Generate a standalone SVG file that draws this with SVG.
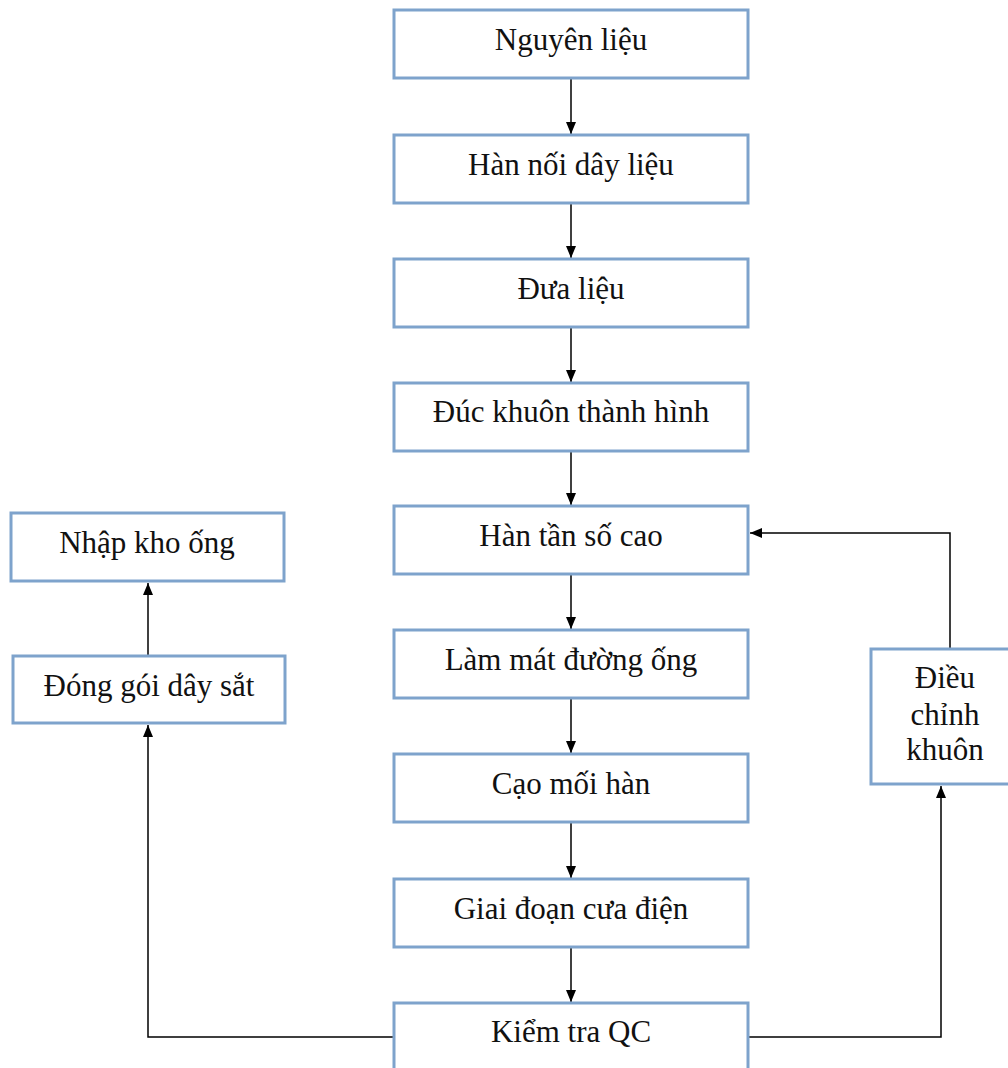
<svg xmlns="http://www.w3.org/2000/svg" width="1008" height="1068" viewBox="0 0 1008 1068">
<style>
.box{fill:#fff;stroke:#7ea3cc;stroke-width:3}
.t{font-family:'Liberation Serif','Times New Roman',serif;font-size:31px;fill:#111;text-anchor:middle}
.c{fill:none;stroke:#000;stroke-width:1.5}
</style>
<defs>
<marker id="a" viewBox="0 0 12 10" refX="12" refY="5" markerWidth="12" markerHeight="10" markerUnits="userSpaceOnUse" orient="auto"><path d="M0,0L12,5L0,10z" fill="#000"/></marker>
</defs>
<rect width="1008" height="1068" fill="#fff"/>
<g id="connectors">
<line class="c" x1="571" y1="79" x2="571" y2="134" marker-end="url(#a)"/>
<line class="c" x1="571" y1="203" x2="571" y2="258" marker-end="url(#a)"/>
<line class="c" x1="571" y1="327" x2="571" y2="382" marker-end="url(#a)"/>
<line class="c" x1="571" y1="451" x2="571" y2="505" marker-end="url(#a)"/>
<line class="c" x1="571" y1="574" x2="571" y2="629" marker-end="url(#a)"/>
<line class="c" x1="571" y1="698" x2="571" y2="753" marker-end="url(#a)"/>
<line class="c" x1="571" y1="822" x2="571" y2="878" marker-end="url(#a)"/>
<line class="c" x1="571" y1="947" x2="571" y2="1002" marker-end="url(#a)"/>
<polyline class="c" points="394,1037 148,1037 148,725" marker-end="url(#a)"/>
<line class="c" x1="148" y1="656" x2="148" y2="583" marker-end="url(#a)"/>
<polyline class="c" points="748,1037 941,1037 941,786" marker-end="url(#a)"/>
<polyline class="c" points="950,649 950,533 750,533" marker-end="url(#a)"/>
</g>
<g id="n1"><rect class="box" x="394" y="10" width="354" height="68"/><text class="t" x="571" y="50">Nguyên liệu</text></g>
<g id="n2"><rect class="box" x="394" y="135" width="354" height="68"/><text class="t" x="571" y="175">Hàn nối dây liệu</text></g>
<g id="n3"><rect class="box" x="394" y="259" width="354" height="68"/><text class="t" x="571" y="299">Đưa liệu</text></g>
<g id="n4"><rect class="box" x="394" y="383" width="354" height="68"/><text class="t" x="571" y="422">Đúc khuôn thành hình</text></g>
<g id="n5"><rect class="box" x="394" y="506" width="354" height="68"/><text class="t" x="571" y="546">Hàn tần số cao</text></g>
<g id="n6"><rect class="box" x="394" y="630" width="354" height="68"/><text class="t" x="571" y="670">Làm mát đường ống</text></g>
<g id="n7"><rect class="box" x="394" y="754" width="354" height="68"/><text class="t" x="571" y="794">Cạo mối hàn</text></g>
<g id="n8"><rect class="box" x="394" y="879" width="354" height="68"/><text class="t" x="571" y="919">Giai đoạn cưa điện</text></g>
<g id="n9"><rect class="box" x="394" y="1003" width="354" height="80"/><text class="t" x="571" y="1042">Kiểm tra QC</text></g>
<g id="n10"><rect class="box" x="11" y="513" width="273" height="68"/><text class="t" x="147" y="553">Nhập kho ống</text></g>
<g id="n11"><rect class="box" x="13" y="656" width="272" height="67"/><text class="t" x="149" y="696">Đóng gói dây sắt</text></g>
<g id="n12"><rect class="box" x="871" y="649" width="150" height="135"/><text class="t" x="945" y="688">Điều</text><text class="t" x="945" y="725">chỉnh</text><text class="t" x="945" y="760">khuôn</text></g>
</svg>
